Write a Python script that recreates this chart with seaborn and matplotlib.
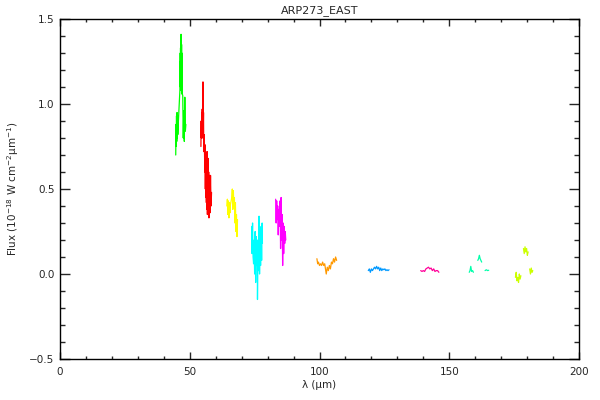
import numpy as np
import pandas as pd
import matplotlib
matplotlib.use("Agg")
import matplotlib.pyplot as plt
import seaborn as sns
from matplotlib.ticker import MultipleLocator

# pieces of the spectrum: wavelength (micron) and flux
green_lam = [44.6, 44.7, 44.8, 44.9, 45.0, 45.1, 45.2, 45.3, 45.4, 45.5,
             46.2, 46.25, 46.3, 46.35, 46.4, 46.45, 46.5, 46.55, 46.6, 46.65,
             46.7, 46.75, 46.8, 46.85, 46.9, 46.95, 47.0, 47.05, 47.1,
             47.3, 47.5, 47.7, 47.9, 48.1, 48.3, 48.5]
green_flux = [0.70, 0.88, 0.75, 0.93, 0.78, 0.95, 0.80, 0.93, 0.82, 0.86,
              1.08, 1.25, 1.12, 1.30, 1.10, 1.33, 1.08, 1.36, 1.12, 1.41,
              1.10, 1.38, 1.12, 1.35, 1.06, 1.30, 1.10, 1.25, 1.06,
              1.05, 0.80, 0.96, 0.78, 1.04, 0.84, 0.88]

red_lam = [54.3, 54.4, 54.5, 54.6, 54.7, 54.8, 54.9, 55.0, 55.1, 55.2,
           55.3, 55.4, 55.6, 55.8, 55.9, 56.0, 56.1, 56.2, 56.3, 56.4,
           56.5, 56.6, 56.7, 56.8, 56.9, 57.0, 57.1, 57.2, 57.3, 57.4,
           57.5, 57.6, 57.7, 57.8, 58.0, 58.2, 58.4]
red_flux = [0.75, 0.90, 0.80, 0.95, 0.84, 0.97, 0.80, 0.90, 1.13, 0.85,
            0.95, 0.72, 0.82, 0.60, 0.76, 0.50, 0.72, 0.45, 0.70, 0.42,
            0.66, 0.38, 0.72, 0.35, 0.64, 0.40, 0.68, 0.36, 0.60, 0.33,
            0.58, 0.38, 0.55, 0.36, 0.58, 0.40, 0.48]

yellow_lam = [64.3, 64.5, 64.7, 64.9, 65.1, 65.3, 65.5, 65.7, 66.2, 66.4,
              66.6, 66.8, 67.0, 67.2, 67.4, 67.6, 67.8, 68.0, 68.2, 68.4]
yellow_flux = [0.40, 0.44, 0.35, 0.43, 0.33, 0.42, 0.36, 0.41, 0.45, 0.50,
               0.38, 0.49, 0.40, 0.45, 0.30, 0.42, 0.25, 0.35, 0.22, 0.32]

cyan_lam = [73.9, 74.0, 74.2, 74.4, 74.6, 74.8, 75.0, 75.2, 75.4, 75.6,
            75.8, 76.0, 76.1, 76.3, 76.5, 76.7, 76.9, 77.1, 77.3, 77.5,
            77.7, 77.9, 78.0]
cyan_flux = [0.28, 0.12, 0.30, 0.10, 0.06, 0.20, 0.00, 0.25, -0.05, 0.22,
             0.05, 0.20, -0.15, 0.15, 0.02, 0.34, 0.00, 0.22, 0.05, 0.28,
             0.08, 0.30, 0.18]

magenta_lam = [83.1, 83.3, 83.5, 83.7, 83.9, 84.1, 84.3, 84.5, 84.8, 85.0,
               85.2, 85.4, 85.6, 85.8, 86.0, 86.2, 86.4, 86.6, 86.8, 87.0]
magenta_flux = [0.44, 0.30, 0.43, 0.32, 0.40, 0.23, 0.38, 0.28, 0.43, 0.15,
                0.45, 0.20, 0.35, 0.05, 0.30, 0.12, 0.28, 0.18, 0.25, 0.20]

orange_lam = [99.0, 99.3, 99.6, 100.0, 100.4, 100.8, 101.2, 101.6, 102.0,
              102.3, 102.6, 103.0, 103.4, 103.8, 104.2, 104.6, 105.0, 105.4,
              105.8, 106.2, 106.6]
orange_flux = [0.09, 0.06, 0.07, 0.05, 0.06, 0.05, 0.07, 0.05, 0.06,
               0.03, 0.00, 0.04, 0.02, 0.05, 0.03, 0.07, 0.06, 0.09,
               0.07, 0.10, 0.08]

blue_lam = [118.8, 119.2, 119.6, 120.0, 120.4, 121.2, 121.6, 122.0, 122.4,
            122.8, 123.2, 123.6, 124.0, 124.4, 124.8, 125.2, 125.6, 126.0,
            126.4, 126.8]
blue_flux = [0.02, 0.03, 0.01, 0.03, 0.02, 0.04, 0.03, 0.045, 0.03,
             0.04, 0.02, 0.035, 0.02, 0.03, 0.025, 0.03, 0.02, 0.025,
             0.02, 0.025]

pink_lam = [139.0, 139.5, 140.0, 140.5, 141.0, 141.5, 142.0, 142.5, 143.0,
            143.5, 144.0, 144.5, 145.0, 145.5, 146.0]
pink_flux = [0.02, 0.015, 0.02, 0.015, 0.03, 0.035, 0.04, 0.03, 0.035,
             0.02, 0.03, 0.015, 0.02, 0.02, 0.01]

teal_a_lam = [157.7, 158.0, 158.3, 158.6, 159.0, 159.3]
teal_a_flux = [0.01, 0.02, 0.045, 0.015, 0.02, 0.01]
teal_b_lam = [161.0, 161.3, 161.6, 161.9, 162.2, 162.5]
teal_b_flux = [0.08, 0.09, 0.11, 0.09, 0.08, 0.07]
teal_c_lam = [163.8, 164.3, 164.8, 165.2]
teal_c_flux = [0.02, 0.025, 0.02, 0.022]

lime_a_lam = [175.5, 175.8, 176.1, 176.4, 176.7, 177.0, 177.3, 177.6]
lime_a_flux = [-0.02, 0.01, -0.04, -0.02, -0.05, 0.00, -0.03, -0.01]
lime_b_lam = [178.6, 178.9, 179.2, 179.5, 179.8, 180.1, 180.4]
lime_b_flux = [0.15, 0.12, 0.16, 0.13, 0.15, 0.11, 0.13]
lime_c_lam = [181.0, 181.3, 181.6, 181.9, 182.2]
lime_c_flux = [0.03, 0.00, 0.035, 0.01, 0.02]

pieces = [
    ("green", green_lam, green_flux),
    ("red", red_lam, red_flux),
    ("yellow", yellow_lam, yellow_flux),
    ("cyan", cyan_lam, cyan_flux),
    ("magenta", magenta_lam, magenta_flux),
    ("orange", orange_lam, orange_flux),
    ("blue", blue_lam, blue_flux),
    ("pink", pink_lam, pink_flux),
    ("teal", teal_a_lam, teal_a_flux),
    ("teal", teal_b_lam, teal_b_flux),
    ("teal", teal_c_lam, teal_c_flux),
    ("lime", lime_a_lam, lime_a_flux),
    ("lime", lime_b_lam, lime_b_flux),
    ("lime", lime_c_lam, lime_c_flux),
]

palette = {"green": "#00ff00", "red": "#ff0000", "yellow": "#ffff00",
           "cyan": "#00ffff", "magenta": "#ff00ff", "orange": "#ff9900",
           "blue": "#0099ff", "pink": "#ff0099", "teal": "#00ffaa",
           "lime": "#ccff00"}

rows = []
for i, (seg, lam, flux) in enumerate(pieces):
    for l, f in zip(lam, flux):
        rows.append({"lam": l, "flux": f, "seg": seg, "piece": i})
df = pd.DataFrame(rows)

sns.set_style("white")
plt.rcParams['font.family'] = ['DejaVu Sans']

fig = plt.figure(figsize=(6, 4), dpi=100)
ax = fig.add_axes([0.1, 0.1025, 0.865, 0.85])

sns.lineplot(data=df, x="lam", y="flux", hue="seg", units="piece",
             estimator=None, sort=False, palette=palette, legend=False,
             linewidth=0.9, ax=ax)

ax.set_xlim(0, 200)
ax.set_ylim(-0.5, 1.5)
ax.xaxis.set_major_locator(MultipleLocator(50))
ax.xaxis.set_minor_locator(MultipleLocator(10))
ax.yaxis.set_major_locator(MultipleLocator(0.5))
ax.yaxis.set_minor_locator(MultipleLocator(0.1))
ax.set_yticks([-0.5, 0.0, 0.5, 1.0, 1.5])
ax.set_yticklabels(["\u22120.5", "0.0", "0.5", "1.0", "1.5"])

ax.tick_params(axis="x", which="major", direction="in", length=5, width=1,
               top=True, bottom=True, labelsize=7.5, pad=6)
ax.tick_params(axis="x", which="minor", direction="in", length=2.5, width=1,
               top=True, bottom=True)
ax.tick_params(axis="y", which="major", direction="in", length=7.5, width=1,
               left=True, right=True, labelsize=7.5, pad=4)
ax.tick_params(axis="y", which="minor", direction="in", length=3.7, width=1,
               left=True, right=True)
for s in ax.spines.values():
    s.set_linewidth(1)
    s.set_color("black")

ax.set_xlabel("λ (μm)", fontsize=7.5, labelpad=2)
ax.set_ylabel("Flux (10$^{-18}$ W cm$^{-2}$μm$^{-1}$)", fontsize=7.5,
              labelpad=6)
ax.set_title("ARP273_EAST", fontsize=8, pad=4)

fig.savefig("out.png", dpi=100)
